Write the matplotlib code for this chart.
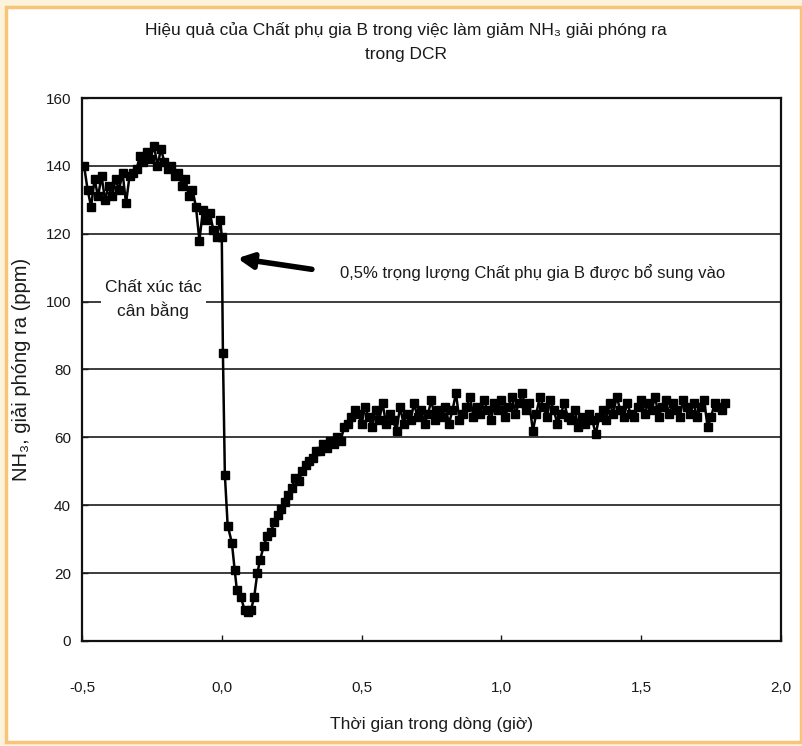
import matplotlib.pyplot as plt
import numpy as np
from matplotlib.patches import Rectangle

plt.rcParams['font.family'] = ['Liberation Sans', 'DejaVu Sans']

# Trước khi thêm phụ gia (bước 0,0125 giờ)
t_pre = -0.4925 + 0.0125 * np.arange(40)
nh3_pre = [140, 133, 128, 136, 131, 137, 130, 134, 131, 136,
           133, 138, 129, 137, 138, 139, 143, 141, 144, 142,
           146, 140, 145, 141, 139, 140, 137, 138, 134, 136,
           131, 133, 128, 118, 127, 124, 126, 121, 119, 124]

# Đoạn giảm mạnh sau khi thêm phụ gia
t_drop = [0.0, 0.004, 0.011, 0.021, 0.036, 0.046, 0.054, 0.068, 0.082,
          0.093, 0.104, 0.116, 0.127]
nh3_drop = [119, 85, 49, 34, 29, 21, 15, 13, 9, 8.5, 9, 13, 20]

# Hồi phục và ổn định
nh3_post = [24, 28, 31, 32, 35, 37, 39, 41, 43, 45,
            48, 47, 50, 52, 53, 54, 56, 56, 58, 57,
            59, 58, 60, 59, 63, 64, 66, 68,
            67, 64, 69, 66, 63, 68, 65, 70,
            64, 67, 65, 62, 69, 64, 67, 65,
            70, 66, 68, 64, 67, 71, 65, 68,
            66, 69, 64, 68, 73, 65, 67, 69,
            72, 66, 69, 67, 71, 68, 65, 70,
            68, 71, 66, 69, 72, 67, 70, 73,
            68, 70, 62, 67, 72, 69, 66, 71,
            68, 64, 67, 70, 66, 65, 68, 63,
            66, 64, 67, 65, 61, 66, 68, 65,
            70, 67, 72, 68, 66, 70, 67, 66,
            69, 71, 67, 70, 68, 72, 66, 69,
            71, 67, 70, 68, 66, 71, 69, 67,
            70, 66, 69, 71, 63, 66, 70, 69,
            68, 70]
t_post = 0.1375 + 0.0125 * np.arange(len(nh3_post))

t_all = np.concatenate([t_pre, t_drop, t_post])
nh3_all = np.concatenate([nh3_pre, nh3_drop, nh3_post])

x_ticks = [-0.5, 0.0, 0.5, 1.0, 1.5, 2.0]
x_labels = ['-0,5', '0,0', '0,5', '1,0', '1,5', '2,0']
y_ticks = [0, 20, 40, 60, 80, 100, 120, 140, 160]

fig = plt.figure(figsize=(8.03, 7.46), dpi=100)
fig.patch.set_facecolor('#fdf2dc')
fig.patches.append(Rectangle((0.008, 0.006), 0.989, 0.985, transform=fig.transFigure,
                             facecolor='white', edgecolor='#f7c47a', linewidth=2.5, zorder=-1))

ax = fig.add_axes([0.1021, 0.1408, 0.8705, 0.7278])
ax.set_zorder(2)
ax.set_facecolor('white')

for y in y_ticks[1:-1]:
    ax.axhline(y, color='#3c3c3c', linewidth=1.4, zorder=1)

ax.plot(t_all, nh3_all, color='black', linewidth=1.8, marker='s', markersize=5.5,
        zorder=3)

ax.set_xlim(-0.5, 2.0)
ax.set_ylim(0, 160)
ax.set_xticks(x_ticks)
ax.set_xticklabels(x_labels)
ax.set_yticks(y_ticks)
ax.tick_params(direction='in', length=4, width=1, labelsize=11, colors='#1a1a1a', pad=8)
ax.tick_params(axis='x', pad=29)
for s in ax.spines.values():
    s.set_linewidth(1.6)
    s.set_color('#111111')

ax.set_xlabel('Thời gian trong dòng (giờ)', fontsize=12.5, color='#1a1a1a', labelpad=16)
ax.set_ylabel('NH₃, giải phóng ra (ppm)', fontsize=14.5, color='#1a1a1a', labelpad=10)
fig.text(0.505, 0.970, 'Hiệu quả của Chất phụ gia B trong việc làm giảm NH₃ giải phóng ra\ntrong DCR',
         ha='center', va='top', fontsize=12.5, color='#1a1a1a', linespacing=1.75)

ax.text(-0.245, 100.6, 'Chất xúc tác\ncân bằng', ha='center', va='center', fontsize=12.5,
        color='#1a1a1a', linespacing=1.45,
        bbox=dict(facecolor='white', edgecolor='none', pad=3), zorder=4)
ax.annotate('', xy=(0.046, 112.9), xytext=(0.332, 109.4),
            arrowprops=dict(arrowstyle='-|>,head_length=0.9,head_width=0.45',
                            color='black', linewidth=4), zorder=4)
ax.text(0.421, 108.5, '0,5% trọng lượng Chất phụ gia B được bổ sung vào', ha='left',
        va='center', fontsize=12, color='#1a1a1a', zorder=4)

fig.savefig('out.png', dpi=100, facecolor=fig.get_facecolor())
